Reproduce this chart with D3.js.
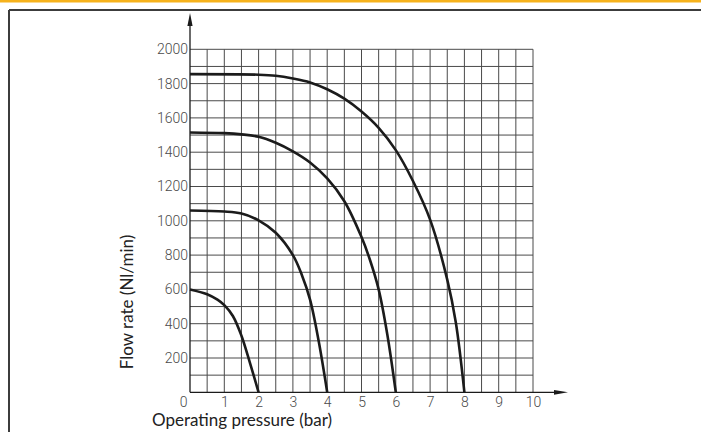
<!DOCTYPE html>
<meta charset="utf-8">
<head>
  <title>Flow rate vs operating pressure</title>
  <script src="https://cdn.jsdelivr.net/npm/d3@7"></script>
  <style>
    body { margin: 0; background: #fff; }
    .grid line { stroke: #4a4a4a; stroke-width: 1; }
    .tick text { font-family: Roboto, sans-serif; font-weight: 300; font-size: 14px; fill: #4a4a4a; }
    .curve { fill: none; stroke: #1b1b1b; stroke-width: 2.6px; }
    .title { font-family: Lato, sans-serif; font-size: 17px; fill: #222; }
  </style>
</head>
<body>
  <svg width="701" height="432"></svg>
  <script>
    // x ticks (bar) and y ticks (Nl/min)
    var xTicks = [0, 1, 2, 3, 4, 5, 6, 7, 8, 9, 10];
    var yTicks = [200, 400, 600, 800, 1000, 1200, 1400, 1600, 1800, 2000];

    // curves: [pressure, flow]
    var curve2bar = [[0, 600], [0.5, 572], [0.8, 540], [1, 508], [1.25, 445], [1.5, 330],
      [1.75, 170], [2, 0]];
    var curve4bar = [[0, 1060], [1, 1054], [1.5, 1042], [2, 1003], [2.5, 930], [3, 800],
      [3.25, 690], [3.5, 540], [3.75, 300], [4, 0]];
    var curve6bar = [[0, 1515], [1, 1511], [1.5, 1504], [2, 1490], [2.5, 1455], [3, 1405],
      [3.5, 1340], [4, 1247], [4.5, 1114], [5, 905], [5.25, 770], [5.5, 600], [5.75, 340], [6, 0]];
    var curve8bar = [[0, 1855], [2, 1852], [2.5, 1846], [3, 1830], [3.5, 1807], [4, 1767],
      [4.5, 1712], [5, 1637], [5.5, 1542], [6, 1412], [6.5, 1232], [7, 1007], [7.5, 657],
      [7.75, 407], [8, 0]];
    var curves = [curve2bar, curve4bar, curve6bar, curve8bar];

    var svg = d3.select("svg");

    var x = d3.scaleLinear().domain([0, 10]).range([190, 533]);
    var y = d3.scaleLinear().domain([0, 2000]).range([392.3, 49.3]);

    // orange strip and frame
    svg.append("rect").attr("x", 0).attr("y", 0).attr("width", 701).attr("height", 2.5)
      .attr("fill", "#f6b21c");
    svg.append("line").attr("x1", 9).attr("x2", 701).attr("y1", 10).attr("y2", 10)
      .attr("stroke", "#3c3c3c").attr("stroke-width", 2);
    svg.append("line").attr("x1", 9).attr("x2", 9).attr("y1", 10).attr("y2", 432)
      .attr("stroke", "#3c3c3c").attr("stroke-width", 2);

    // grid
    var grid = svg.append("g").attr("class", "grid");
    grid.selectAll(".v").data(d3.range(0.5, 10.01, 0.5)).enter().append("line")
      .attr("x1", function(d) { return x(d); }).attr("x2", function(d) { return x(d); })
      .attr("y1", y(0)).attr("y2", y(2000));
    grid.selectAll(".h").data(d3.range(100, 2001, 100)).enter().append("line")
      .attr("x1", x(0)).attr("x2", x(10))
      .attr("y1", function(d) { return y(d); }).attr("y2", function(d) { return y(d); });

    // axis lines with arrows
    svg.append("line").attr("x1", x(0)).attr("x2", x(0)).attr("y1", y(0)).attr("y2", 24)
      .attr("stroke", "#1b1b1b").attr("stroke-width", 1.3);
    svg.append("path").attr("d", "M" + x(0) + ",13 l-2.6,13 l5.2,0 z").attr("fill", "#1b1b1b");
    svg.append("line").attr("x1", x(0)).attr("x2", 556).attr("y1", y(0)).attr("y2", y(0))
      .attr("stroke", "#1b1b1b").attr("stroke-width", 1.3);
    svg.append("path").attr("d", "M568," + y(0) + " l-14,-2.4 l0,4.8 z").attr("fill", "#1b1b1b");

    // tick labels
    var yAxis = svg.append("g").attr("transform", "translate(" + (x(0) - 1) + ",0)")
      .call(d3.axisLeft(y).tickValues(yTicks).tickSize(0).tickPadding(1).tickFormat(d3.format("d")));
    yAxis.select(".domain").remove();

    var xAxis = svg.append("g").attr("transform", "translate(0," + (y(0) + 5) + ")")
      .call(d3.axisBottom(x).tickValues(xTicks).tickSize(0).tickPadding(0).tickFormat(d3.format("d")));
    xAxis.select(".domain").remove();
    xAxis.selectAll(".tick text").attr("dx", function(d) { return d === 0 ? -7 : 0; });

    // curves
    var line = d3.line()
      .x(function(d) { return x(d[0]); })
      .y(function(d) { return y(d[1]); })
      .curve(d3.curveCatmullRom.alpha(0.5));
    svg.selectAll(".curve").data(curves).enter().append("path")
      .attr("class", "curve")
      .attr("d", line);

    // titles
    svg.append("text").attr("class", "title")
      .attr("x", 152).attr("y", 426)
      .text("Operating pressure (bar)");
    svg.append("text").attr("class", "title")
      .attr("transform", "translate(133,302) rotate(-90)")
      .attr("text-anchor", "middle")
      .text("Flow rate (Nl/min)");
  </script>
</body>
